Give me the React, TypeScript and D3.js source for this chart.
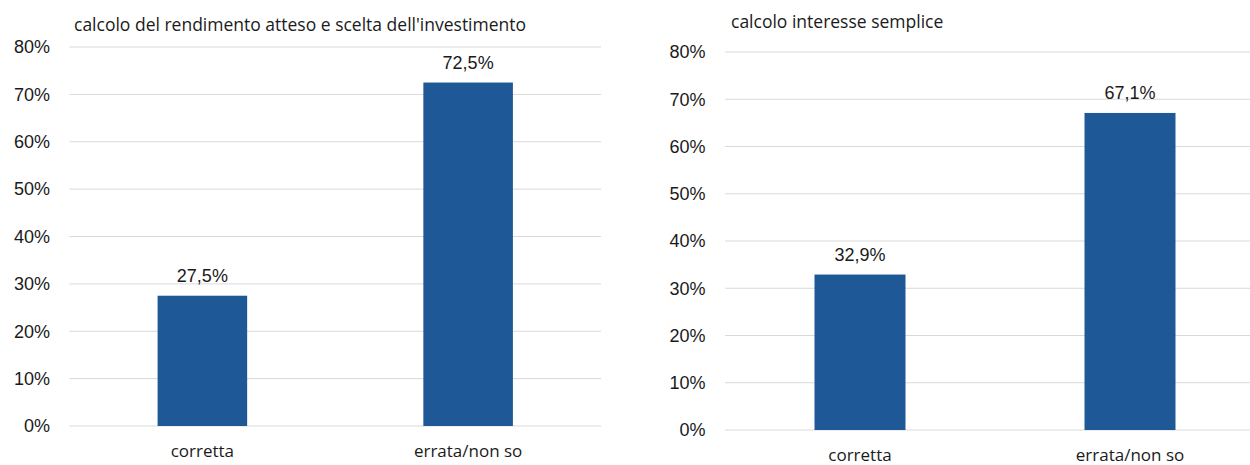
import React from "react";
import * as d3 from "d3";

const categories = ["corretta", "errata/non so"];
const leftTitle = "calcolo del rendimento atteso e scelta dell'investimento";
const leftValues = [27.5, 72.5];
const rightTitle = "calcolo interesse semplice";
const rightValues = [32.9, 67.1];
const yTicks = [0, 10, 20, 30, 40, 50, 60, 70, 80];

const BAR = "#1F5897";
const GRID = "#D9D9D9";
const TEXT = "#1a1a1a";

const fmt = (v: number) => v.toFixed(1).replace(".", ",") + "%";

type PanelProps = {
  title: string;
  values: number[];
  x0: number;
  x1: number;
  yBottom: number;
  yTop: number;
  titleX: number;
  titleY: number;
};

function Panel({ title, values, x0, x1, yBottom, yTop, titleX, titleY }: PanelProps) {
  const x = d3.scaleBand<string>().domain(categories).range([x0, x1]).padding(0);
  const y = d3.scaleLinear().domain([0, 80]).range([yBottom, yTop]);
  const bw = x.step() * 0.337;
  return (
    <g>
      <text x={titleX} y={titleY} fontFamily="'Open Sans', sans-serif" fontSize={17.5} fill={TEXT}>
        {title}
      </text>
      {yTicks.map((t) => (
        <g key={t}>
          <line x1={x0} x2={x1} y1={y(t)} y2={y(t)} stroke={GRID} strokeWidth={1} />
          <text
            x={x0 - 19.5}
            y={y(t)}
            dy="0.35em"
            textAnchor="end"
            fontFamily="'Liberation Sans', Arial, sans-serif"
            fontSize={18}
            fill={TEXT}
          >
            {t + "%"}
          </text>
        </g>
      ))}
      {categories.map((c, i) => {
        const cx = (x(c) as number) + x.bandwidth() / 2;
        return (
          <g key={c}>
            <rect x={cx - bw / 2} y={y(values[i])} width={bw} height={y(0) - y(values[i])} fill={BAR} />
            <text
              x={cx}
              y={y(values[i]) - 14}
              textAnchor="middle"
              fontFamily="'Liberation Sans', Arial, sans-serif"
              fontSize={18}
              fill={TEXT}
            >
              {fmt(values[i])}
            </text>
            <text
              x={cx}
              y={y(0) + 31}
              textAnchor="middle"
              fontFamily="'Open Sans', sans-serif"
              fontSize={17}
              fill={TEXT}
            >
              {c}
            </text>
          </g>
        );
      })}
    </g>
  );
}

export default function App() {
  return (
    <svg
      width={1250}
      height={465}
      style={{ position: "absolute", left: 0, top: 0, background: "#fff" }}
    >
      <Panel title={leftTitle} values={leftValues} x0={69.5} x1={601} yBottom={426} yTop={47} titleX={74} titleY={31} />
      <Panel title={rightTitle} values={rightValues} x0={725} x1={1265} yBottom={430} yTop={52} titleX={731} titleY={28} />
    </svg>
  );
}
